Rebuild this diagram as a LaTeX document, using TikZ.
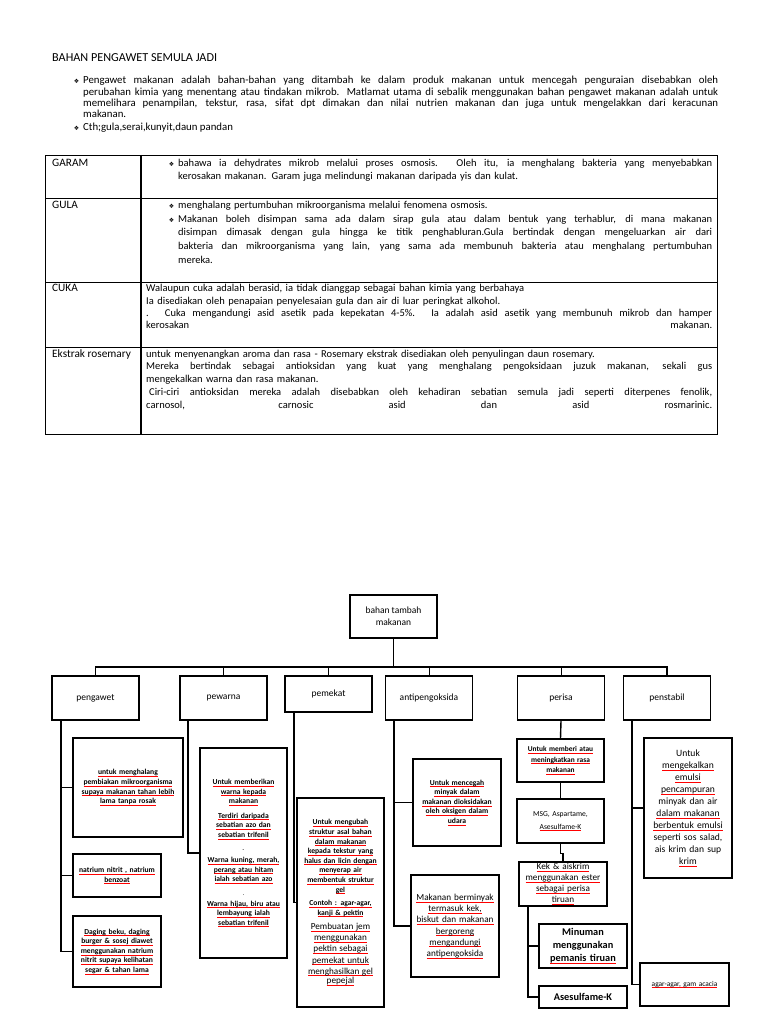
\documentclass[tikz,border=0pt]{standalone}
\usepackage{fontspec}
\setmainfont{Carlito}
\newfontfamily\symfont{DejaVu Sans}
\usetikzlibrary{positioning}

\newcommand{\dbullet}{\leavevmode\llap{{\symfont\fontsize{6}{6}\selectfont ❖}\hspace{4pt}}}
\newcommand{\jline}[1]{\makebox[\hsize][s]{\spaceskip=0pt\xspaceskip=0pt #1}}
\newcommand{\ru}[1]{\leavevmode\sbox0{#1}\rlap{\textcolor{red}{\rule[-1.6pt]{\wd0}{0.45pt}}}\usebox0}
\newcommand{\bsm}{\bfseries\fontsize{7.6}{9.6}\selectfont}
\newcommand{\rsm}{\mdseries\fontsize{9.2}{11.2}\selectfont}

\tikzset{
  tabline/.style={line width=0.8pt},
  para/.style={inner sep=0pt, align=left},
  catbox/.style={draw, line width=1.4pt, minimum width=87pt, minimum height=44pt,
    inner sep=0pt, align=center, font=\fontsize{9.5}{12}\selectfont},
  infobox/.style={draw, line width=1.4pt, inner sep=1pt, align=center},
  link/.style={line width=1.4pt},
  drop/.style={line width=0.9pt}
}

\begin{document}
\begin{tikzpicture}[x=1pt, y=-1pt]
  \fill[white] (0,0) rectangle (768,1024);
  \useasboundingbox (0,0) rectangle (768,1024);

  % Title and introduction
  \node[para, anchor=base west, font=\fontsize{12.2}{13}\selectfont] (title) at (52,61.5) {BAHAN PENGAWET SEMULA JADI};
  \node[para, anchor=north west, text width=635pt, font=\fontsize{10.8}{11.2}\selectfont] (intro) at (83,75.8)
    {\strut\dbullet\jline{Pengawet makanan adalah bahan-bahan yang ditambah ke dalam produk makanan untuk mencegah penguraian disebabkan oleh}\\
     \jline{perubahan kimia yang menentang atau tindakan mikrob. Matlamat utama di sebalik menggunakan bahan pengawet makanan adalah untuk}\\
     \jline{memelihara penampilan, tekstur, rasa, sifat dpt dimakan dan nilai nutrien makanan dan juga untuk mengelakkan dari keracunan}\\
     makanan.};
  \node[para, anchor=base west, font=\fontsize{10.8}{12}\selectfont] (cth) at (83,130.5) {\dbullet Cth;gula,serai,kunyit,daun pandan};

  % Table
  \draw[tabline] (45,155) rectangle (717,434);
  \foreach \y in {198,282,347}
    \draw[tabline] (45,\y) -- (717,\y);
  \draw[line width=1.2pt] (141,155) -- (141,434);

  \foreach \txt/\y/\n in {GARAM/166.5/garam, GULA/208.5/gula, CUKA/291.5/cuka, Ekstrak rosemary/357.5/rosemary}
    \node[para, anchor=base west, font=\fontsize{11.3}{12}\selectfont] (lbl-\n) at (52,\y) {\txt};

  \node[para, anchor=north west, text width=534pt, font=\fontsize{10.5}{13}\selectfont] (txt-garam) at (178,157)
    {\strut\dbullet\jline{bahawa ia dehydrates mikrob melalui proses osmosis. Oleh itu, ia menghalang bakteria yang menyebabkan}\\
     kerosakan makanan. Garam juga melindungi makanan daripada yis dan kulat.};
  \node[para, anchor=north west, text width=534pt, font=\fontsize{10.5}{13.6}\selectfont] (txt-gula) at (178,199)
    {\strut\dbullet menghalang pertumbuhan mikroorganisma melalui fenomena osmosis.\\
     \dbullet\jline{Makanan boleh disimpan sama ada dalam sirap gula atau dalam bentuk yang terhablur, di mana makanan}\\
     \jline{disimpan dimasak dengan gula hingga ke titik penghabluran.Gula bertindak dengan mengeluarkan air dari}\\
     \jline{bakteria dan mikroorganisma yang lain, yang sama ada membunuh bakteria atau menghalang pertumbuhan}\\
     mereka.};
  \node[para, anchor=north west, text width=566pt, font=\fontsize{10.5}{12.4}\selectfont] (txt-cuka) at (146,282.8)
    {\strut Walaupun cuka adalah berasid, ia tidak dianggap sebagai bahan kimia yang berbahaya\\
     Ia disediakan oleh penapaian penyelesaian gula dan air di luar peringkat alkohol.\\
     \jline{. Cuka mengandungi asid asetik pada kepekatan 4-5\%. Ia adalah asid asetik yang membunuh mikrob dan hamper}\\
     \makebox[\hsize]{kerosakan\hfill makanan.}};
  \node[para, anchor=north west, text width=566pt, font=\fontsize{10.5}{12.8}\selectfont] (txt-rosemary) at (146,348)
    {\strut untuk menyenangkan aroma dan rasa - Rosemary ekstrak disediakan oleh penyulingan daun rosemary.\\
     \jline{Mereka bertindak sebagai antioksidan yang kuat yang menghalang pengoksidaan juzuk makanan, sekali gus}\\
     mengekalkan warna dan rasa makanan.\\
     \jline{\hspace*{3pt}Ciri-ciri antioksidan mereka adalah disebabkan oleh kehadiran sebatian semula jadi seperti diterpenes fenolik,}\\
     \jline{carnosol, carnosic asid dan asid rosmarinic.}};

  % Chart: top levels
  \node[catbox, minimum height=43pt] (root) at (393.5,616.5) {bahan tambah\\makanan};
  \node[catbox] (pengawet) at (95.5,698) {pengawet};
  \node[catbox] (pewarna) at (223.5,698) {pewarna};
  \node[catbox, minimum height=36pt] (pemekat) at (328.5,694) {pemekat};
  \node[catbox] (antipengoksida) at (429,698) {antipengoksida};
  \node[catbox] (perisa) at (561,698) {perisa};
  \node[catbox] (penstabil) at (667,698) {penstabil};

  \coordinate (bus) at (0,667);
  \draw[link] (root.south) -- (root.south |- bus);
  \draw[link] (pengawet.north) |- (penstabil.north |- bus) -- (penstabil.north);
  \foreach \n in {pewarna,pemekat,antipengoksida,perisa}
    \draw[drop] (\n.north) -- (\n.north |- bus);

  % pengawet
  \node[infobox, text width=108pt, minimum height=99pt, font=\bsm] (awet1) at (128,787.5)
    {\ru{untuk menghalang}\\ \ru{pembiakan mikroorganisma}\\ \ru{supaya makanan tahan lebih}\\ \ru{lama tanpa rosak}};
  \node[infobox, text width=86pt, minimum height=43pt, font=\bsm] (awet2) at (117,875.5)
    {\ru{natrium nitrit , natrium}\\ \ru{benzoat}};
  \node[infobox, text width=86pt, minimum height=71pt, font=\bsm] (awet3) at (117,951.5)
    {\ru{Daging beku, daging}\\ \ru{burger \& sosej diawet}\\ \ru{menggunakan natrium}\\ \ru{nitrit supaya kelihatan}\\ \ru{segar \& tahan lama}};
  \coordinate (tA) at (61,720);
  \draw[link] (tA) |- (awet3.west);
  \draw[link] (tA |- awet1.west) -- (awet1.west);
  \draw[link] (tA |- awet2.west) -- (awet2.west);

  % pewarna
  \node[infobox, text width=85pt, minimum height=210pt, font=\bsm] (warna1) at (243.5,853)
    {\ru{Untuk memberikan}\\ \ru{warna kepada}\\ \ru{makanan}\\[5pt]
     \ru{Terdiri daripada}\\ \ru{sebatian azo dan}\\ \ru{sebatian trifenil}\\[4pt]
     {\tiny -}\\[2pt]
     \ru{Warna kuning, merah,}\\ \ru{perang atau hitam}\\ \ru{ialah sebatian azo}\\[4pt]
     {\tiny .}\\[1pt]
     \ru{Warna hijau, biru atau}\\ \ru{lembayung ialah}\\ \ru{sebatian trifenil}\\[12pt]};
  \coordinate (tB) at (188,720);
  \draw[link] (tB) |- (warna1.west);

  % pemekat
  \node[infobox, text width=85pt, minimum height=209pt, font=\bsm] (pekat1) at (340.5,902.5)
    {\ru{Untuk mengubah}\\ \ru{struktur asal bahan}\\ \ru{dalam makanan}\\ \ru{kepada tekstur yang}\\
     \ru{halus dan licin dengan}\\ \ru{menyerap air}\\ \ru{membentuk struktur}\\ \ru{gel}\\[4pt]
     \ru{Contoh : agar-agar,}\\ \ru{kanji \& pektin}\\[3pt]
     {\rsm\ru{Pembuatan jem}\\ \ru{menggunakan}\\ \ru{pektin sebagai}\\ \ru{pemekat untuk}\\ \ru{menghasilkan gel}\\ \ru{pepejal}}};
  \coordinate (tC) at (294,712);
  \draw[link] (tC) |- (pekat1.west);

  % antipengoksida
  \node[infobox, text width=86pt, minimum height=87pt, font=\bsm] (oksida1) at (457,802.5)
    {\ru{Untuk mencegah}\\ \ru{minyak dalam}\\ \ru{makanan dioksidakan}\\ \ru{oleh oksigen dalam}\\ \ru{udara}};
  \node[infobox, text width=86pt, minimum height=102pt, font=\rsm] (oksida2) at (455,926)
    {\ru{Makanan berminyak}\\ \ru{termasuk kek,}\\ \ru{biskut dan makanan}\\ \ru{bergoreng}\\ \ru{mengandungi}\\ \ru{antipengoksida}};
  \coordinate (tD) at (394,720);
  \draw[link] (tD) |- (oksida2.west);
  \draw[link] (tD |- oksida1.west) -- (oksida1.west);

  % perisa
  \node[infobox, text width=85pt, minimum height=43pt, font=\bfseries\fontsize{7.4}{10.4}\selectfont] (rasa1) at (560.5,760.5)
    {\ru{Untuk memberi atau}\\ \ru{meningkatkan rasa}\\ \ru{makanan}};
  \node[infobox, text width=85pt, minimum height=44pt, font=\fontsize{7.6}{13}\selectfont] (rasa2) at (560.5,821)
    {MSG, Aspartame,\\ \ru{Asesulfame-K}};
  \node[infobox, text width=86pt, minimum height=44pt, font=\fontsize{9.2}{11}\selectfont] (rasa3) at (563,884)
    {\ru{Kek \& aiskrim}\\ \ru{menggunakan ester}\\ \ru{sebagai perisa}\\ \ru{tiruan}};
  \node[infobox, text width=86pt, minimum height=44pt, font=\bfseries\fontsize{10.3}{13}\selectfont] (rasa4) at (583,946)
    {Minuman\\ menggunakan\\ \ru{pemanis tiruan}};
  \node[infobox, text width=86pt, minimum height=22pt, font=\bfseries\fontsize{10.3}{12}\selectfont] (rasa5) at (583,997)
    {Asesulfame-K};
  \draw[link] (perisa.south) -- (rasa1.north);
  \draw[link] (rasa1.south) -- (rasa2.north);
  \draw[link] (rasa2.south) -- ++(0,10) -| (rasa3.north);
  \coordinate (tE) at (528,906);
  \draw[link] (tE) |- (rasa5.west);
  \draw[link] (tE |- rasa4.west) -- (rasa4.west);

  % penstabil
  \node[infobox, text width=86pt, minimum height=140pt, font=\fontsize{9.6}{12}\selectfont] (stabil1) at (688,808)
    {Untuk\\ \ru{mengekalkan}\\ \ru{emulsi}\\ \ru{pencampuran}\\ minyak dan air\\ \ru{dalam makanan}\\
     \ru{berbentuk emulsi}\\ seperti sos salad,\\ ais krim dan sup\\ \ru{krim}};
  \node[infobox, text width=87pt, minimum height=43pt, font=\fontsize{7.4}{9}\selectfont] (stabil2) at (684.5,984.5)
    {\ru{agar-agar, gam acacia}};
  \coordinate (tF) at (632,720);
  \draw[link] (tF) |- (stabil2.west);
  \draw[link] (tF |- stabil1.west) -- (stabil1.west);
\end{tikzpicture}
\end{document}
